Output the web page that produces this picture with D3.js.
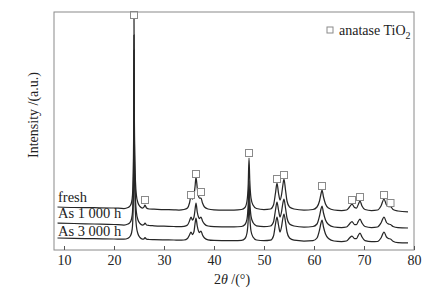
<!DOCTYPE html>
<html><head><meta charset="utf-8">
<script src="https://cdn.jsdelivr.net/npm/d3@7"></script>
<style>
body{margin:0;background:#fff;}
svg{display:block;font-family:"Liberation Serif","Times New Roman",serif;}
</style></head>
<body><svg id="c" width="448" height="299"></svg>
<script>
// x: 2θ (°), y: intensity (a.u., stacked offsets included)
const fresh = [[8.7,43],[12,42.5],[16,42.3],[20,42],[22,41.5],[22.8,42.5],[23.2,44],[23.5,47.5],[23.7,55],[23.85,78],[23.95,130],[24.0,232],[24.05,150],[24.15,98],[24.3,68],[24.5,54],[24.8,47],[25.2,43.5],[25.7,42],[26.0,43],[26.2,45],[26.5,42],[27,41],[28,40.8],[30,40.4],[32,40.2],[33,40],[34,40.5],[34.7,42],[35.1,47],[35.4,54],[35.7,51],[36.0,55],[36.2,63],[36.4,73],[36.65,62],[36.9,54],[37.1,52],[37.4,52],[37.7,47],[38.1,43],[38.8,41],[40,40.2],[42,40],[44,40],[45.5,40.5],[46.2,42.5],[46.6,49],[46.85,66],[47.0,92],[47.15,70],[47.4,52],[47.8,45],[48.5,41.5],[50,40.5],[51.3,41],[51.9,45],[52.3,57],[52.6,67],[52.9,57],[53.2,50],[53.5,55],[53.75,64],[54.0,71],[54.3,60],[54.6,49],[55.1,43],[56,41],[58,40],[59.8,40.5],[60.6,43],[61.1,49],[61.4,56],[61.6,60],[61.9,53],[62.3,46],[62.9,42],[64,40],[65.5,39.5],[66.5,40],[67.1,43],[67.6,46],[68.1,42.5],[68.5,42],[68.9,46],[69.2,49],[69.6,44],[70.2,40.5],[71.5,39.5],[72.7,40],[73.4,44],[74.0,51],[74.5,45],[74.9,43.5],[75.3,43.5],[75.8,40.5],[76.8,39],[78.8,38]];
const as1000 = [[8.7,27],[12,26.5],[16,26],[20,25.5],[22,25],[22.8,26],[23.2,27.5],[23.5,31],[23.7,38],[23.85,60],[23.95,110],[24.0,215],[24.05,130],[24.15,80],[24.3,50],[24.5,37],[24.8,30],[25.2,26.5],[25.7,25],[26.0,25.5],[26.2,27],[26.5,25],[27,24.5],[28,24.2],[30,23.8],[32,23.5],[33,23.3],[34,23.6],[34.7,25],[35.1,29],[35.4,33],[35.7,30],[36.0,33],[36.2,40],[36.4,47],[36.65,38],[36.9,33],[37.1,31.5],[37.4,33],[37.7,29],[38.1,26],[38.8,24],[40,23.4],[42,23.2],[44,23.1],[45.5,23.5],[46.2,25.5],[46.6,31],[46.85,47],[47.0,69],[47.15,50],[47.4,34],[47.8,27.5],[48.5,24.2],[50,23.4],[51.3,24],[51.9,28],[52.3,40],[52.6,48],[52.9,40],[53.2,33],[53.5,38],[53.75,46],[54.0,51],[54.3,42],[54.6,32],[55.1,26],[56,24],[58,23],[59.8,23.5],[60.6,26],[61.1,34],[61.4,41],[61.6,44],[61.9,37],[62.3,30],[62.9,25.5],[64,23],[65.5,22.5],[66.5,23],[67.1,26],[67.6,28.5],[68.1,25.5],[68.5,25.5],[68.9,29],[69.2,31],[69.6,27],[70.2,23.5],[71.5,22.5],[72.7,23],[73.4,27],[74.0,33],[74.5,27.5],[74.9,26],[75.3,25.5],[75.8,23.5],[76.8,22.3],[78.8,22]];
const as3000 = [[8.7,12],[12,11.6],[16,11.3],[20,11],[22,10.8],[22.8,11.8],[23.2,13.5],[23.5,17],[23.7,24],[23.85,46],[23.95,95],[24.0,200],[24.05,115],[24.15,66],[24.3,36],[24.5,23],[24.8,16],[25.2,12.5],[25.7,11],[26.0,11.2],[26.2,12.5],[26.5,10.8],[27,10.5],[28,10.3],[30,10.1],[32,10],[33,9.8],[34,10],[34.7,11.5],[35.1,15],[35.4,18],[35.7,15.5],[36.0,18.5],[36.2,26],[36.4,32],[36.65,24],[36.9,19],[37.1,17.5],[37.4,19],[37.7,15],[38.1,12],[38.8,10.2],[40,9.6],[42,9.4],[44,9.3],[45.5,9.6],[46.2,11.5],[46.6,17],[46.85,31],[47.0,51],[47.15,34],[47.4,19],[47.8,13],[48.5,10],[50,9.3],[51.3,9.8],[51.9,14],[52.3,26],[52.6,33],[52.9,25],[53.2,18],[53.5,23],[53.75,31],[54.0,36],[54.3,28],[54.6,18],[55.1,12],[56,9.8],[58,9],[59.8,9.3],[60.6,12],[61.1,20],[61.4,27],[61.6,30],[61.9,23],[62.3,16],[62.9,11.5],[64,9],[65.5,8.5],[66.5,9],[67.1,12],[67.6,14],[68.1,11.5],[68.5,11.5],[68.9,15],[69.2,17],[69.6,13],[70.2,9.3],[71.5,8.3],[72.7,8.5],[73.4,12],[74.0,18],[74.5,13],[74.9,11.5],[75.3,11],[75.8,8.8],[76.8,7.4],[78.8,7]];
const seriesNames = ["fresh","As 1 000 h","As 3 000 h"];
const anatasePeaks = [[24.0,235],[26.2,50],[35.4,55],[36.4,76],[37.4,58],[47.0,97],[52.6,71],[54.0,75],[61.6,64],[67.6,50],[69.2,53],[74.0,55],[75.3,47]];
const xTicks = [10,20,30,40,50,60,70,80];
const labelY = [48,32,14];

const svg = d3.select("#c");
const L=54,R=414,T=12,B=250;
const x = d3.scaleLinear().domain([8,80]).range([L,R]);
const y = d3.scaleLinear().domain([0,238]).range([B,T]);

const line = d3.line().x(d=>x(d[0])).y(d=>y(d[1])).curve(d3.curveMonotoneX);
[fresh,as1000,as3000].forEach(s=>{
  svg.append("path").attr("d",line(s)).attr("fill","none").attr("stroke","#262626").attr("stroke-width",1.25);
});

svg.selectAll("rect.m").data(anatasePeaks).enter().append("rect")
  .attr("x",d=>x(d[0])-3.5).attr("y",d=>y(d[1])-3.5).attr("width",7).attr("height",7)
  .attr("fill","#fff").attr("stroke","#8a8a8a").attr("stroke-width",1);

svg.append("rect").attr("x",L).attr("y",T).attr("width",R-L).attr("height",B-T)
  .attr("fill","none").attr("stroke","#8a8a8a").attr("stroke-width",1);

const ax = svg.append("g").attr("transform",`translate(0,${B})`)
  .call(d3.axisBottom(x).tickValues(xTicks).tickSizeInner(-4).tickSizeOuter(0).tickPadding(5));
ax.select(".domain").remove();
ax.selectAll(".tick line").attr("stroke","#555");
ax.selectAll(".tick text").attr("font-size",14).attr("fill","#222").attr("font-family","Liberation Serif");

seriesNames.forEach((n,i)=>{
  svg.append("text").attr("x",x(8.8)).attr("y",y(labelY[i])).attr("font-size",14.5).attr("fill","#222").text(n);
});

const xt = svg.append("text").attr("x",232).attr("y",284).attr("text-anchor","middle").attr("font-size",14).attr("fill","#222");
xt.append("tspan").text("2");
xt.append("tspan").attr("font-style","italic").text("θ");
xt.append("tspan").text(" /(°)");

svg.append("text").attr("transform","translate(38,115) rotate(-90)").attr("text-anchor","middle")
  .attr("font-size",14).attr("fill","#222").text("Intensity /(a.u.)");

svg.append("rect").attr("x",327).attr("y",27).attr("width",6).attr("height",6).attr("fill","#fff").attr("stroke","#8a8a8a");
const lt = svg.append("text").attr("x",339).attr("y",35).attr("font-size",14).attr("fill","#222");
lt.append("tspan").text("anatase TiO");
lt.append("tspan").attr("font-size",10).attr("dy",4).text("2");
</script></body></html>
